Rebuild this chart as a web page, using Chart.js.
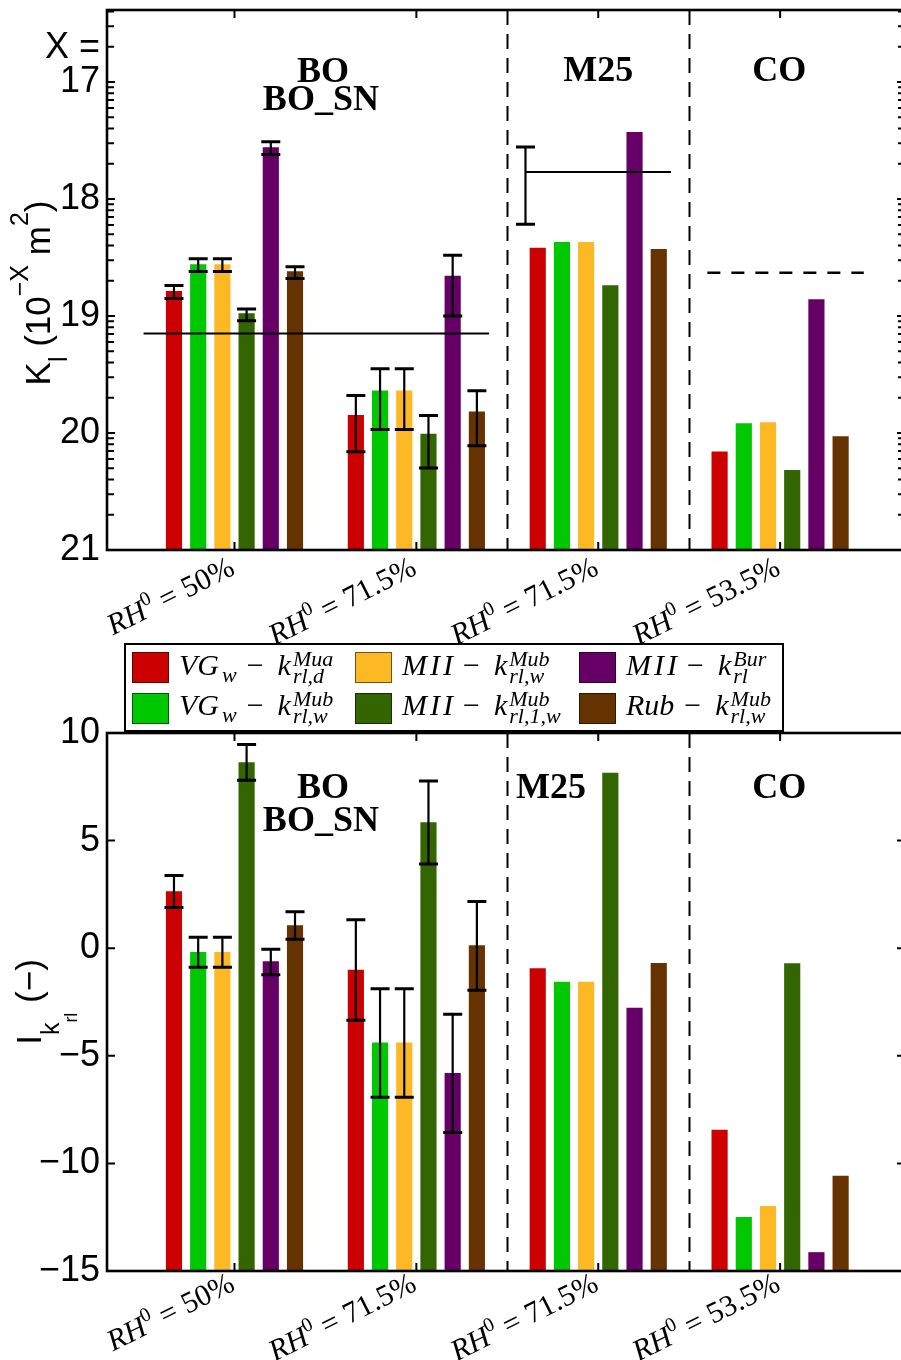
<!DOCTYPE html>
<html>
<head>
<meta charset="utf-8">
<script src="https://cdn.jsdelivr.net/npm/chart.js@4.4.0/dist/chart.umd.min.js"></script>
<style>
  html, body { margin: 0; padding: 0; background: #fff; overflow: hidden; }
  #wrap { position: relative; width: 910px; height: 1360px; }
  #topChart { position: absolute; left: 0; top: 0; }
  #botChart { position: absolute; left: 0; top: 638px; }
</style>
</head>
<body>
<div id="wrap">
  <canvas id="topChart" width="910" height="660"></canvas>
  <canvas id="botChart" width="910" height="722"></canvas>
</div>
<script>
// ---- data ----
const groups = [1, 2, 3, 4];
const rhLabels = ["50%", "71.5%", "71.5%", "53.5%"];
const kTicks = [17, 18, 19, 20, 21];
const iTicks = [-15, -10, -5, 0, 5, 10];

// K_l as exponent X (K_l = 10^-X m^2), one value per group
const kVGd  = [18.79, 19.85, 18.42, 20.16];
const kVGw  = [18.56, 19.64, 18.37, 19.92];
const kMIIw = [18.56, 19.64, 18.37, 19.91];
const kMII1 = [18.98, 20.01, 18.74, 20.32];
const kBur  = [17.56, 18.66, 17.43, 18.86];
const kRub  = [18.62, 19.82, 18.43, 20.03];

// error ranges [low, high] of X, null where no bar
const kErrVGd  = [[18.74, 18.85], [19.68, 20.16], null, null];
const kErrVGw  = [[18.51, 18.62], [19.45, 19.97], null, null];
const kErrMIIw = [[18.51, 18.62], [19.45, 19.97], null, null];
const kErrMII1 = [[18.94, 19.04], [19.85, 20.30], null, null];
const kErrBur  = [[17.51, 17.62], [18.48, 19.00], null, null];
const kErrRub  = [[18.58, 18.68], [19.64, 20.11], null, null];

// measured K_l per data set (BO, M25, CO)
const kMeasured     = [19.15, 17.77, 18.63];
const kMeasuredFrom = [0.5, 2.6, 3.6];
const kMeasuredTo   = [2.4, 3.4, 4.46];
const kMeasuredErr  = [null, [17.556, 18.216], null];

// I_krl indicator
const iVGd  = [2.63, -1.02, -0.95, -8.45];
const iVGw  = [-0.19, -4.40, -1.58, -12.51];
const iMIIw = [-0.19, -4.40, -1.58, -12.00];
const iMII1 = [8.63, 5.84, 8.14, -0.72];
const iBur  = [-0.62, -5.81, -2.78, -14.14];
const iRub  = [1.05, 0.12, -0.70, -10.59];

const iErrVGd  = [[1.89, 3.38], [-3.35, 1.32], null, null];
const iErrVGw  = [[-0.88, 0.51], [-6.93, -1.89], null, null];
const iErrMIIw = [[-0.88, 0.51], [-6.93, -1.89], null, null];
const iErrMII1 = [[7.81, 9.46], [3.91, 7.77], null, null];
const iErrBur  = [[-1.23, -0.05], [-8.56, -3.07], null, null];
const iErrRub  = [[0.42, 1.69], [-1.95, 2.17], null, null];

const legendLabels = [
  { a: "VG", as: "w", sup: "Mua", sub: "rl,d" },
  { a: "VG", as: "w", sup: "Mub", sub: "rl,w" },
  { a: "MII", sup: "Mub", sub: "rl,w" },
  { a: "MII", sup: "Mub", sub: "rl,1,w" },
  { a: "MII", sup: "Bur", sub: "rl" },
  { a: "Rub", sup: "Mub", sub: "rl,w" }
];

// ---- style ----
const colors = ["#cc0000", "#00c800", "#fdb924", "#336600", "#660066", "#663300"];
const SANS = '"Liberation Sans", Arial, sans-serif';
const SERIF = '"Liberation Serif", "Times New Roman", serif';
const X_MIN = 0.299, X_MAX = 4.6867;
const BAR_STEP = 0.1331;

function richWidth(ctx, parts) {
  let w = 0;
  parts.forEach(p => {
    if (p.stack) {
      let mw = 0;
      p.stack.forEach(s => { ctx.font = s.f; mw = Math.max(mw, ctx.measureText(s.t).width); });
      w += mw;
      return;
    }
    w += p.gap || 0;
    if (p.t) { ctx.font = p.f; w += ctx.measureText(p.t).width; }
  });
  return w;
}

function drawRich(ctx, parts, x, y, align) {
  const w = richWidth(ctx, parts);
  let cx = align === "right" ? x - w : align === "center" ? x - w / 2 : x;
  ctx.textAlign = "left";
  ctx.textBaseline = "alphabetic";
  parts.forEach(p => {
    if (p.stack) {
      let mw = 0;
      p.stack.forEach(s => {
        ctx.font = s.f;
        ctx.fillText(s.t, cx, y + (s.dy || 0));
        mw = Math.max(mw, ctx.measureText(s.t).width);
      });
      cx += mw;
      return;
    }
    cx += p.gap || 0;
    if (p.t) {
      ctx.font = p.f;
      ctx.fillText(p.t, cx, y + (p.dy || 0));
      cx += ctx.measureText(p.t).width;
    }
  });
}

function rhParts(v) {
  return [
    { t: "RH", f: "italic 30px " + SERIF },
    { t: "0", f: "20px " + SERIF, dy: -12 },
    { gap: 8, t: "=", f: "30px " + SERIF },
    { gap: 8, t: v, f: "30px " + SERIF }
  ];
}

function barSets(series, errs) {
  return series.map((vals, j) => ({
    type: "bar",
    data: vals.map((v, i) => ({ x: groups[i] + (j - 2.5) * BAR_STEP, y: v })),
    backgroundColor: colors[j],
    borderWidth: 0,
    barThickness: 15.5,
    grouped: false,
    order: 1,
    errors: errs[j]
  }));
}

// error bars of the model bars
const errorBars = {
  id: "errorBars",
  afterDatasetsDraw(chart) {
    const ctx = chart.ctx, y = chart.scales.y;
    ctx.save();
    ctx.strokeStyle = "#000";
    chart.data.datasets.forEach((ds, j) => {
      if (!ds.errors) return;
      const meta = chart.getDatasetMeta(j);
      ds.errors.forEach((e, i) => {
        if (!e) return;
        const x = meta.data[i].x;
        const y1 = y.getPixelForValue(e[0]), y2 = y.getPixelForValue(e[1]);
        ctx.lineWidth = 2.2;
        ctx.beginPath(); ctx.moveTo(x, y1); ctx.lineTo(x, y2); ctx.stroke();
        ctx.lineWidth = 3;
        ctx.beginPath();
        ctx.moveTo(x - 9.5, y1); ctx.lineTo(x + 9.5, y1);
        ctx.moveTo(x - 9.5, y2); ctx.lineTo(x + 9.5, y2);
        ctx.stroke();
      });
    });
    ctx.restore();
  }
};

// dashed separators between data sets
const separators = {
  id: "separators",
  beforeDatasetsDraw(chart) {
    const ctx = chart.ctx, a = chart.chartArea, x = chart.scales.x;
    ctx.save();
    ctx.strokeStyle = "#000";
    ctx.lineWidth = 2;
    ctx.setLineDash([15, 9]);
    [2.5, 3.5].forEach(v => {
      const px = Math.round(x.getPixelForValue(v)) + 0.5;
      ctx.beginPath(); ctx.moveTo(px, a.top); ctx.lineTo(px, a.bottom); ctx.stroke();
    });
    ctx.restore();
  }
};

function frame(chart, majors, minors, labelDy) {
  const ctx = chart.ctx, a = chart.chartArea, x = chart.scales.x, y = chart.scales.y;
  ctx.save();
  ctx.strokeStyle = "#000";
  ctx.lineWidth = 2;
  ctx.beginPath();
  majors.forEach(v => {
    const py = y.getPixelForValue(v);
    ctx.moveTo(a.left, py); ctx.lineTo(a.left + 8, py);
    ctx.moveTo(a.right, py); ctx.lineTo(a.right - 8, py);
  });
  minors.forEach(v => {
    const py = y.getPixelForValue(v);
    ctx.moveTo(a.left, py); ctx.lineTo(a.left + 7, py);
    ctx.moveTo(a.right, py); ctx.lineTo(a.right - 7, py);
  });
  groups.forEach(g => {
    const px = x.getPixelForValue(g);
    ctx.moveTo(px, a.bottom); ctx.lineTo(px, a.bottom - 8);
    ctx.moveTo(px, a.top); ctx.lineTo(px, a.top + 8);
  });
  ctx.stroke();
  ctx.lineWidth = 2.6;
  ctx.strokeRect(a.left, a.top, a.right - a.left, a.bottom - a.top);

  // rotated group labels
  ctx.fillStyle = "#000";
  const th = -26.6 * Math.PI / 180;
  groups.forEach((g, i) => {
    ctx.save();
    ctx.translate(x.getPixelForValue(g) - 8, a.bottom + labelDy);
    ctx.rotate(th);
    drawRich(ctx, rhParts(rhLabels[i]), 0, 22, "right");
    ctx.restore();
  });
  ctx.restore();
}

function setTitle(ctx, text, px, py) {
  ctx.font = "bold 36px " + SERIF;
  ctx.textAlign = "center";
  ctx.textBaseline = "alphabetic";
  ctx.fillText(text, px, py);
}

// log-decade minor ticks of the K_l axis
const kMinor = [];
[16, 17, 18, 19, 20].forEach(n => {
  for (let m = 2; m <= 9; m++) kMinor.push(n + 1 - Math.log10(m));
});

const topDecor = {
  id: "topDecor",
  afterDraw(chart) {
    const ctx = chart.ctx, a = chart.chartArea, x = chart.scales.x;
    frame(chart, kTicks, kMinor.filter(v => v > 16.39), 4);
    ctx.save();
    ctx.fillStyle = "#000";
    ctx.font = "36px " + SANS;
    ctx.textAlign = "right";
    ctx.textBaseline = "alphabetic";
    ctx.fillText("X =", 100, 58);
    setTitle(ctx, "BO", x.getPixelForValue(1.486), a.top + 72);
    setTitle(ctx, "BO_SN", x.getPixelForValue(1.475), a.top + 100);
    setTitle(ctx, "M25", x.getPixelForValue(3.0), a.top + 71);
    setTitle(ctx, "CO", x.getPixelForValue(3.995), a.top + 71);
    // y axis title
    ctx.translate(50, 293);
    ctx.rotate(-Math.PI / 2);
    drawRich(ctx, [
      { t: "K", f: "35px " + SANS },
      { t: "l", f: "25px " + SANS, dy: 17 },
      { t: " (10", f: "35px " + SANS },
      { t: "\u2212X", f: "25px " + SANS, dy: -22 },
      { t: " m", f: "35px " + SANS },
      { t: "2", f: "25px " + SANS, dy: -22 },
      { t: ")", f: "35px " + SANS }
    ], 0, 0, "center");
    ctx.restore();
  }
};

const botDecor = {
  id: "botDecor",
  afterDraw(chart) {
    const ctx = chart.ctx, a = chart.chartArea, x = chart.scales.x;
    frame(chart, iTicks, [], -1);
    ctx.save();
    ctx.fillStyle = "#000";
    setTitle(ctx, "BO", x.getPixelForValue(1.486), a.top + 65);
    setTitle(ctx, "BO_SN", x.getPixelForValue(1.475), a.top + 98);
    setTitle(ctx, "M25", x.getPixelForValue(2.74), a.top + 65);
    setTitle(ctx, "CO", x.getPixelForValue(3.995), a.top + 65);

    // legend box
    ctx.fillStyle = "#fff";
    ctx.fillRect(125, 6, 658, 87);
    ctx.strokeStyle = "#000";
    ctx.lineWidth = 2;
    ctx.strokeRect(125, 6, 658, 87);
    const colX = [132, 355, 579];
    const rowY = [14, 55];
    const baseY = [37, 77];
    legendLabels.forEach((l, k) => {
      const c = Math.floor(k / 2), r = k % 2;
      ctx.fillStyle = colors[k];
      ctx.fillRect(colX[c], rowY[r], 37, 31);
      ctx.strokeStyle = "rgba(0,0,0,0.55)";
      ctx.lineWidth = 1;
      ctx.strokeRect(colX[c] + 0.5, rowY[r] + 0.5, 36, 30);
      ctx.fillStyle = "#000";
      // math italic: capital I gets wider side bearings
      const parts = l.a.split("").map(ch => ({ gap: ch === "I" ? 3 : 0, t: ch, f: "italic 30px " + SERIF }));
      if (l.as) parts.push({ gap: 3, t: l.as, f: "italic 22px " + SERIF, dy: 7 });
      parts.push({ gap: 10, t: "\u2212", f: "30px " + SERIF });
      parts.push({ gap: 14, t: "k", f: "italic 30px " + SERIF });
      parts.push({ gap: 2, t: "" });
      parts.push({ stack: [
        { t: l.sup, f: "italic 22px " + SERIF, dy: -9 },
        { t: l.sub, f: "italic 22px " + SERIF, dy: 8 }
      ] });
      drawRich(ctx, parts, colX[c] + 47, baseY[r], "left");
    });

    // y axis title
    ctx.fillStyle = "#000";
    ctx.translate(41, a.top + (a.bottom - a.top) / 2);
    ctx.rotate(-Math.PI / 2);
    drawRich(ctx, [
      { t: "I", f: "35px " + SANS },
      { t: "k", f: "25px " + SANS, dy: 18 },
      { t: "rl", f: "18px " + SANS, dy: 36 },
      { t: " (\u2212)", f: "35px " + SANS }
    ], 0, 0, "center");
    ctx.restore();
  }
};

function options(yCfg, padding) {
  return {
    responsive: false,
    animation: false,
    devicePixelRatio: 1,
    layout: { padding },
    plugins: { legend: { display: false }, tooltip: { enabled: false } },
    scales: {
      x: { type: "linear", min: X_MIN, max: X_MAX, display: false, offset: false },
      y: Object.assign({
        type: "linear",
        grid: { display: false, drawTicks: false },
        border: { display: false },
        ticks: {
          font: { family: SANS, size: 36 },
          color: "#000",
          padding: 7,
          callback: v => (v < 0 ? "\u2212" + Math.abs(v) : String(v))
        },
        afterFit: s => { s.width = 107; s.paddingTop = 0; s.paddingBottom = 0; }
      }, yCfg)
    }
  };
}

// ---- top chart: K_l ----
const kSeries = [kVGd, kVGw, kMIIw, kMII1, kBur, kRub];
const kErrs = [kErrVGd, kErrVGw, kErrMIIw, kErrMII1, kErrBur, kErrRub];
const kBars = barSets(kSeries, kErrs).map(d => Object.assign(d, { base: 21 }));
const kLines = kMeasured.map((v, i) => ({
  type: "line",
  data: [{ x: kMeasuredFrom[i], y: v }, { x: kMeasuredTo[i], y: v }],
  borderColor: "#000",
  borderWidth: i === 2 ? 2.6 : 2,
  borderDash: i === 2 ? [13, 11] : [],
  pointRadius: 0,
  fill: false,
  order: 0
}));
// error bar of the measured M25 value, placed at the line start
kLines[1].errors = [kMeasuredErr[1], null];

new Chart(document.getElementById("topChart"), {
  type: "bar",
  data: { datasets: kBars.concat(kLines) },
  options: options({
    reverse: true,
    min: 16.385,
    max: 21,
    afterBuildTicks: s => { s.ticks = kTicks.map(v => ({ value: v })); }
  }, { left: 0, top: 10, right: 5, bottom: 110 }),
  plugins: [separators, errorBars, topDecor]
});

// ---- bottom chart: I_krl ----
const iSeries = [iVGd, iVGw, iMIIw, iMII1, iBur, iRub];
const iErrs = [iErrVGd, iErrVGw, iErrMIIw, iErrMII1, iErrBur, iErrRub];
const iBars = barSets(iSeries, iErrs).map(d => Object.assign(d, { base: -15 }));

new Chart(document.getElementById("botChart"), {
  type: "bar",
  data: { datasets: iBars },
  options: options({
    min: -15,
    max: 10,
    afterBuildTicks: s => { s.ticks = iTicks.map(v => ({ value: v })); }
  }, { left: 0, top: 95, right: 5, bottom: 89 }),
  plugins: [separators, errorBars, botDecor]
});
</script>
</body>
</html>
